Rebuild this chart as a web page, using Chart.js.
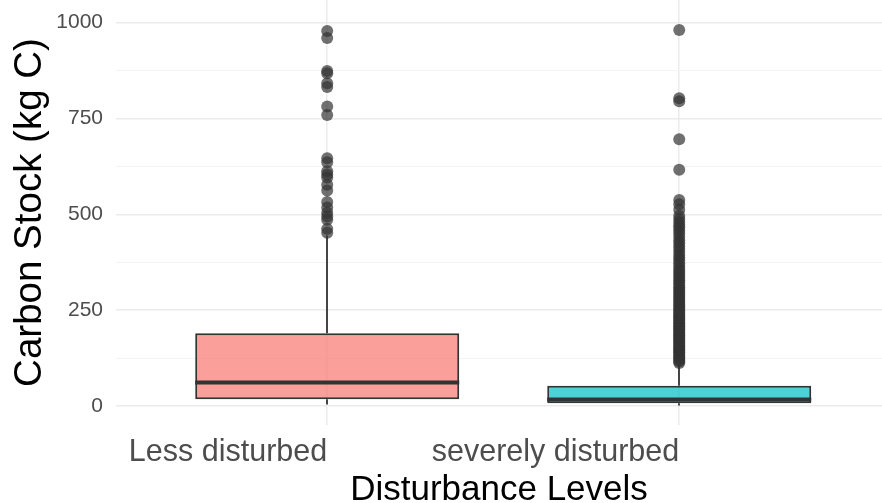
<!DOCTYPE html>
<html>
<head>
<meta charset="utf-8">
<script src="https://cdn.jsdelivr.net/npm/chart.js@4"></script>
<style>
  html, body { margin: 0; padding: 0; background: #fff; }
  #wrap { width: 882px; height: 503px; }
</style>
</head>
<body>
<div id="wrap"><canvas id="box"></canvas></div>
<script>
// data
const categories = ['Less disturbed', 'severely disturbed'];
const lowerWhisker = [4, 1];
const q1 = [17.5, 7];
const median = [61, 17];
const q3 = [190, 53];
const upperWhisker = [445, 108];
const outliersLess = [978, 960, 874, 868, 842, 832, 781, 759, 646, 636, 612, 604, 596, 577, 562, 532, 518, 504, 494, 486, 462, 452];
const outliersSevere = [981, 803, 795, 696, 616, 537, 526, 512, 496, 488, 480, 472, 466, 458, 450, 441, 432, 425, 417,
    410, 402, 394, 387, 380, 372, 365, 358, 352, 346, 340, 334, 328, 322, 316, 310, 305, 300, 295, 290, 285, 280,
    275, 270, 265, 260, 255, 250, 245, 240, 236, 232, 228, 224, 220, 216, 212, 208, 204, 200, 196, 192, 188, 184,
    180, 176, 172, 168, 164, 160, 156, 152, 148, 144, 140, 136, 132, 128, 124, 120, 116, 112];
const yTicks = [0, 125, 250, 375, 500, 625, 750, 875, 1000];

const boxFill = ['rgba(248,118,109,0.7)', 'rgba(0,191,196,0.7)'];
const ink = '#333333';

// whiskers behind the boxes, medians on top of them
const boxPlot = {
    id: 'boxPlot',
    beforeDatasetsDraw(chart) {
        const meta = chart.getDatasetMeta(1);
        const y = chart.scales.y;
        const ctx = chart.ctx;
        ctx.save();
        ctx.strokeStyle = ink;
        ctx.lineWidth = 1.8;
        meta.data.forEach((bar, i) => {
            const x = Math.round(bar.x);
            ctx.beginPath();
            ctx.moveTo(x, y.getPixelForValue(q3[i]));
            ctx.lineTo(x, y.getPixelForValue(upperWhisker[i]));
            ctx.moveTo(x, y.getPixelForValue(q1[i]));
            ctx.lineTo(x, y.getPixelForValue(lowerWhisker[i]));
            ctx.stroke();
        });
        ctx.restore();
    },
    afterDatasetDraw(chart, args) {
        if (args.index !== 1) return;
        const y = chart.scales.y;
        const ctx = chart.ctx;
        ctx.save();
        ctx.strokeStyle = ink;
        ctx.lineWidth = 4;
        args.meta.data.forEach((bar, i) => {
            const half = bar.width / 2;
            const py = y.getPixelForValue(median[i]);
            ctx.beginPath();
            ctx.moveTo(bar.x - half, py);
            ctx.lineTo(bar.x + half, py);
            ctx.stroke();
        });
        ctx.restore();
    }
};

const outlierPoints = [
    ...outliersLess.map(v => ({ x: 1, y: v })),
    ...outliersSevere.map(v => ({ x: 2, y: v }))
];

new Chart(document.getElementById('box'), {
    data: {
        datasets: [{
            type: 'scatter',
            data: outlierPoints,
            pointRadius: 6,
            pointBackgroundColor: 'rgba(51,51,51,0.7)',
            pointBorderWidth: 0
        }, {
            type: 'bar',
            data: categories.map((c, i) => ({ x: i + 1, y: [q1[i], q3[i]] })),
            backgroundColor: boxFill,
            borderColor: ink,
            borderWidth: 2,
            borderSkipped: false,
            categoryPercentage: 0.75,
            barPercentage: 1
        }]
    },
    options: {
        responsive: true,
        maintainAspectRatio: false,
        animation: false,
        layout: { padding: 0, autoPadding: false },
        plugins: { legend: { display: false }, tooltip: { enabled: false } },
        scales: {
            x: {
                type: 'linear',
                min: 0.4,
                max: 2.576,
                offset: false,
                afterBuildTicks: s => { s.ticks = categories.map((c, i) => ({ value: i + 1 })); },
                afterFit: s => { s.height = 78; s.paddingLeft = 0; s.paddingRight = 0; },
                border: { display: false },
                grid: { color: '#EBEBEB', lineWidth: 1.5, drawTicks: false, offset: false },
                ticks: {
                    align: 'end',
                    padding: 9,
                    color: '#4D4D4D',
                    font: { family: 'Arial, "Liberation Sans"', size: 30.5 },
                    callback: v => categories[v - 1]
                },
                title: {
                    display: true,
                    text: 'Disturbance Levels',
                    color: '#000',
                    padding: { top: 0, bottom: -5 },
                    font: { family: 'Arial, "Liberation Sans"', size: 35, lineHeight: 1 }
                }
            },
            y: {
                min: -49.6,
                max: 1059,
                afterBuildTicks: s => { s.ticks = yTicks.map(v => ({ value: v })); },
                afterFit: s => { s.width = 116; s.paddingTop = 0; s.paddingBottom = 0; },
                border: { display: false },
                grid: {
                    drawTicks: false,
                    color: c => (c.tick && c.tick.value % 250 === 0) ? '#EBEBEB' : '#F3F3F3',
                    lineWidth: c => (c.tick && c.tick.value % 250 === 0) ? 1.5 : 1
                },
                ticks: {
                    padding: 13,
                    color: '#4D4D4D',
                    font: { family: 'Arial, "Liberation Sans"', size: 21 },
                    callback: v => (v % 250 === 0 ? String(v) : '')
                },
                title: {
                    display: true,
                    text: 'Carbon Stock (kg C)',
                    color: '#000',
                    padding: { top: 11, bottom: 0 },
                    font: { family: 'Arial, "Liberation Sans"', size: 38.5, lineHeight: 1 }
                }
            }
        }
    },
    plugins: [boxPlot]
});
</script>
</body>
</html>
